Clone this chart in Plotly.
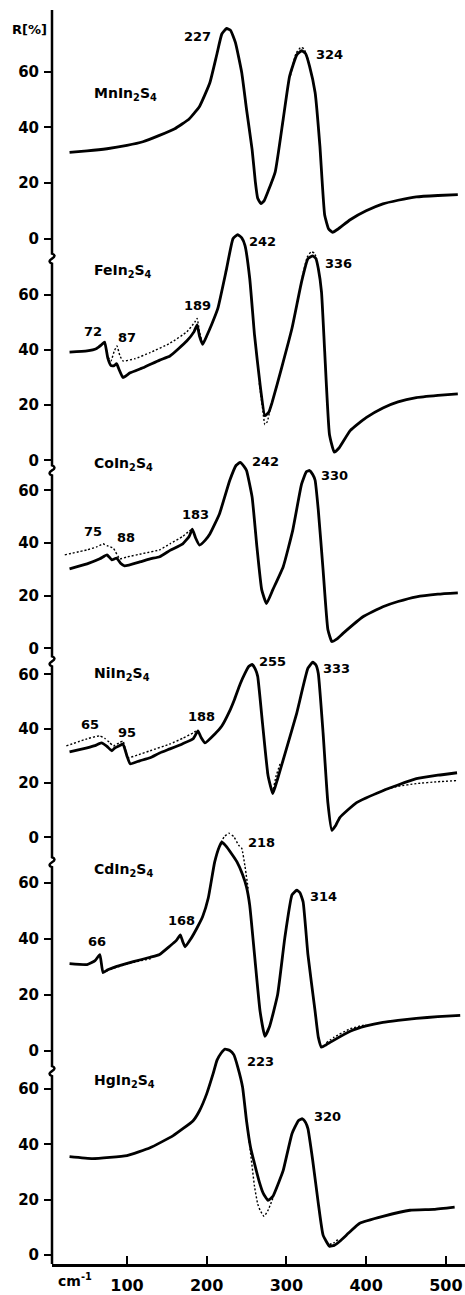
import plotly.graph_objects as go

# ---------------------------------------------------------------
# Far-infrared reflectivity spectra of MIn2S4 spinels
# wavenumber in cm^-1, reflectivity R in %
# solid = measured, dotted = model fit (drawn where it departs)
# ---------------------------------------------------------------

mn_x = [28, 50, 75, 100, 120, 140, 160, 178, 191, 204, 213, 219, 225, 230, 236, 244,
        250, 257, 261, 264, 268, 272, 277, 286, 296, 304, 313, 319, 324, 329, 336, 342,
        348, 353, 358, 365, 380, 400, 421, 440, 463, 490, 515]
mn_r = [31.0, 31.5, 32.3, 33.5, 34.8, 37.0, 39.5, 43.0, 47.5, 56.0, 66.5, 73.5, 75.5,
        74.8, 70.5, 59.6, 46.4, 32.0, 20.5, 14.5, 12.6, 13.6, 17.0, 24.0, 43.0, 58.3,
        66.0, 67.5, 66.5, 62.0, 52.5, 33.3, 8.5, 3.5, 2.3, 3.5, 6.8, 10.0, 12.5, 13.8,
        15.0, 15.5, 15.8]
mn_fit_x = [305, 312, 318, 322, 327]
mn_fit_r = [58.5, 66.5, 68.7, 68.2, 64.5]

fe_x = [28, 50, 62, 68, 72, 76, 80, 84, 87, 90, 95, 104, 120, 141, 154, 175, 184, 188,
        191, 195, 200, 206, 214, 225, 233, 239, 244, 248, 254, 260, 267, 273, 278, 282,
        294, 307, 319, 327, 333, 337, 340, 344, 348, 354, 360, 366, 380, 400, 421, 440,
        463, 490, 515]
fe_r = [39.2, 39.6, 40.5, 41.8, 42.8, 37.0, 34.3, 34.3, 35.0, 33.0, 30.0, 31.7, 33.5,
        36.3, 37.8, 43.2, 46.5, 49.0, 45.0, 42.0, 45.0, 49.0, 55.0, 69.4, 80.2, 81.7,
        80.5, 77.8, 65.8, 45.4, 27.4, 16.2, 17.5, 20.9, 33.5, 47.8, 64.6, 73.0, 74.0,
        73.0, 69.4, 61.0, 39.5, 9.4, 3.0, 4.5, 10.8, 15.5, 19.0, 21.2, 22.7, 23.5, 24.1]
fe_fit_x = [68, 72, 76, 80, 84, 87.5, 91, 95, 110, 129, 154, 175, 185, 188, 191, 195, None,
            266, 270, 273, 276, 280, 288, None,
            320, 326, 331, 335, 338]
fe_fit_r = [41.8, 42.8, 37.5, 36.0, 39.5, 41.4, 38.0, 36.0, 36.8, 39.0, 42.4, 46.5, 50.0,
            51.4, 46.5, 42.0, None,
            28.0, 19.0, 13.0, 14.0, 19.0, 27.0, None,
            66.5, 73.5, 75.5, 75.0, 73.0]

co_x = [28, 50, 66, 75, 81, 87, 92, 97, 116, 129, 141, 154, 170, 178, 182, 186, 191,
        198, 204, 216, 229, 237, 242, 247, 250, 257, 263, 269, 275, 283, 296, 308, 319,
        325, 329, 333, 336, 340, 346, 352, 357, 363, 371, 396, 421, 440, 463, 490, 515]
co_r = [30.2, 32.1, 34.0, 35.5, 33.6, 34.3, 32.3, 31.3, 32.8, 34.0, 34.8, 37.2, 39.7,
        42.5, 45.3, 42.0, 39.2, 41.0, 43.4, 51.0, 63.8, 69.5, 70.6, 69.0, 67.5, 57.4,
        38.5, 22.3, 17.0, 22.3, 31.0, 44.9, 62.3, 67.0, 67.5, 66.0, 63.8, 52.5, 29.8,
        7.2, 2.6, 3.5, 5.7, 12.0, 15.8, 17.8, 19.6, 20.6, 21.1]
co_fit_x = [22, 50, 62, 70, 75, 83, 91, 100, 120, 141, 154, 170, 178, 182]
co_fit_r = [35.5, 37.4, 38.5, 39.7, 39.0, 38.0, 34.0, 34.7, 36.0, 37.4, 39.7, 42.5,
            44.5, 45.3]

ni_x = [28, 50, 60, 68, 75, 81, 85, 90, 95, 100, 104, 116, 129, 141, 154, 170, 183, 189,
        193, 198, 210, 219, 228, 235, 242, 248, 253, 257, 261, 264, 270, 277, 283, 289,
        300, 313, 327, 333, 337, 340, 346, 352, 357, 362, 367, 388, 421, 440, 463, 490, 514]
ni_r = [31.5, 33.0, 33.8, 34.8, 33.5, 31.9, 33.0, 33.7, 34.4, 30.0, 27.1, 28.2, 29.3,
        31.1, 32.6, 34.5, 36.3, 39.2, 36.8, 34.8, 38.0, 41.0, 46.0, 50.9, 56.5, 60.4,
        63.0, 63.7, 62.0, 59.3, 42.1, 22.7, 16.1, 21.6, 32.6, 45.8, 62.3, 64.5, 63.5,
        60.4, 38.5, 12.8, 2.6, 4.5, 7.3, 12.8, 17.2, 19.3, 21.6, 22.9, 23.8]
ni_fit_x = [24, 50, 66, 72, 78, 83, 90, 95, 98, 101, 115, 129, 154, 170, 183, 188, None,
            276, 280, 283, 287, 292, None,
            421, 440, 463, 490, 514]
ni_fit_r = [33.7, 36.3, 37.4, 36.5, 35.0, 33.7, 34.8, 35.5, 32.5, 29.3, 30.5, 31.9,
            34.4, 36.5, 38.5, 39.5, None,
            24.0, 18.5, 17.5, 22.5, 27.0, None,
            17.5, 18.8, 19.8, 20.5, 20.9]

cd_x = [28, 50, 60, 66, 70, 76, 83, 108, 129, 141, 154, 162, 167, 170, 173, 180, 188,
        195, 202, 210, 216, 219, 224, 231, 238, 245, 250, 254, 260, 267, 273, 279, 289,
        298, 307, 313, 317, 321, 327, 336, 340, 344, 350, 357, 380, 400, 421, 440, 463,
        490, 518]
cd_r = [31.2, 30.9, 32.3, 34.4, 28.0, 29.0, 29.8, 31.9, 33.5, 34.5, 37.5, 39.5, 41.5,
        39.0, 37.2, 40.0, 44.0, 48.0, 54.6, 67.4, 73.0, 74.5, 73.2, 70.5, 67.5, 63.0,
        58.5, 52.0, 34.4, 14.2, 5.3, 8.9, 20.2, 40.4, 55.7, 57.4, 56.5, 53.2, 34.4, 14.2,
        5.0, 1.4, 2.3, 3.5, 7.1, 9.0, 10.3, 11.0, 11.7, 12.3, 12.8]
cd_fit_x = [70, 76, 90, 110, 130, None,
            216, 222, 228, 234, 240, 244, 248, 252, None,
            350, 360, 380, 400]
cd_fit_r = [28.0, 28.8, 30.2, 31.8, 33.0, None,
            73.0, 76.5, 77.7, 76.5, 73.5, 72.3, 66.0, 58.0, None,
            3.0, 5.0, 8.0, 9.5]

hg_x = [28, 57, 100, 129, 158, 183, 191, 200, 208, 213, 218, 223, 229, 234, 239, 245,
        250, 255, 260, 266, 271, 277, 283, 290, 296, 307, 315, 320, 324, 327, 333, 340,
        346, 354, 360, 367, 380, 392, 421, 455, 485, 511]
hg_r = [35.6, 34.9, 36.0, 38.8, 43.2, 48.6, 52.2, 58.3, 65.5, 70.5, 73.0, 74.5, 74.0,
        72.5, 68.0, 60.8, 48.5, 39.0, 33.1, 26.5, 22.3, 19.8, 21.2, 26.0, 30.6, 43.9,
        48.6, 49.3, 48.0, 45.7, 34.2, 18.7, 7.2, 3.2, 3.5, 5.0, 8.5, 11.5, 14.0, 16.2,
        16.5, 17.3]
hg_fit_x = [250, 254, 260, 264, 267, 272, 277, 283, None, 354, 360, 366]
hg_fit_r = [48.5, 39.5, 24.8, 18.5, 16.2, 14.0, 16.2, 20.5, None, 3.8, 4.5, 6.0]

compounds = ["MnIn<sub>2</sub>S<sub>4</sub>", "FeIn<sub>2</sub>S<sub>4</sub>",
             "CoIn<sub>2</sub>S<sub>4</sub>", "NiIn<sub>2</sub>S<sub>4</sub>",
             "CdIn<sub>2</sub>S<sub>4</sub>", "HgIn<sub>2</sub>S<sub>4</sub>"]

# peak-position labels per panel: (text, x, R)
peak_labels = [
    [("227", 189, 72.5), ("324", 354, 66)],
    [("72", 57, 46.8), ("87", 100, 44.6), ("189", 188, 56.1), ("242", 270, 79.1),
     ("336", 365, 71.2)],
    [("75", 57, 44.2), ("88", 99, 41.9), ("183", 186, 50.9), ("242", 274, 70.9),
     ("330", 360, 65.7)],
    [("65", 54, 41.4), ("95", 100, 38.5), ("188", 194, 44.7), ("255", 283, 64.8),
     ("333", 363, 62.3)],
    [("66", 62, 39.0), ("168", 168, 46.5), ("218", 269, 74.5), ("314", 346, 55.0)],
    [("223", 267, 70.1), ("320", 352, 50.0)],
]
# compound-name label anchor (x, R) per panel
name_pos = [(56, 52), (56, 68.7), (56, 69.8), (56, 60), (56, 64.5), (56, 63)]

x_ticks = [100, 200, 300, 400, 500]
r_ticks = [0, 20, 40, 60]

spectra = [(mn_x, mn_r, mn_fit_x, mn_fit_r), (fe_x, fe_r, fe_fit_x, fe_fit_r),
           (co_x, co_r, co_fit_x, co_fit_r), (ni_x, ni_r, ni_fit_x, ni_fit_r),
           (cd_x, cd_r, cd_fit_x, cd_fit_r), (hg_x, hg_r, hg_fit_x, hg_fit_r)]

# ---------------- page geometry ----------------
W, H = 465, 1295
ML, MB = 52, 24
PW, PH = W - ML, H - MB
# pixel row of R=0 and pixels per % for each stacked panel
zero_row = [240, 463, 652, 842, 1057, 1262]
px_per_pct = [2.8, 2.78, 2.65, 2.73, 2.82, 2.78]
breaks = [260, 473, 665, 867, 1077]

FONT = "DejaVu Sans"


def paper(px, py):
    return (px - ML) / PW, 1 - py / PH


fig = go.Figure()

for k, (xs, rs, fx, fr) in enumerate(spectra):
    yref = "y" if k == 0 else f"y{k + 1}"
    fig.add_trace(go.Scatter(x=fx, y=fr, yaxis=yref, mode="lines",
                             line=dict(color="black", width=1.4, dash="2px,2px",
                                       shape="spline", smoothing=0.4),
                             connectgaps=False, showlegend=False, hoverinfo="skip"))
    fig.add_trace(go.Scatter(x=xs, y=rs, yaxis=yref, mode="lines",
                             line=dict(color="black", width=2.8,
                                       shape="spline", smoothing=0.4),
                             showlegend=False))

layout = dict(
    width=W, height=H, autosize=False,
    margin=dict(l=ML, r=0, t=0, b=MB, pad=0),
    paper_bgcolor="white", plot_bgcolor="white",
    showlegend=False,
    xaxis=dict(range=[6, 524], domain=[0, 1], anchor="y",
               showline=True, linecolor="black", linewidth=2.5,
               ticks="inside", ticklen=8, tickwidth=2, tickcolor="black",
               tickvals=x_ticks, ticktext=[str(v) for v in x_ticks],
               tickfont=dict(family=FONT, size=16, color="black", weight="bold"),
               ticklabelstandoff=5,
               showgrid=False, zeroline=False),
)

for k in range(6):
    z, s = zero_row[k], px_per_pct[k]
    ax = dict(domain=[0, 1], range=[(z - PH) / s, z / s], anchor="x", side="left",
              tickvals=r_ticks, ticktext=[str(v) for v in r_ticks],
              ticks="outside", ticklen=7, tickwidth=2, tickcolor="black",
              tickfont=dict(family=FONT, size=15, color="black", weight="bold"),
              ticklabelstandoff=2,
              showline=False, showgrid=False, zeroline=False)
    if k == 0:
        layout["yaxis"] = ax
    else:
        ax["overlaying"] = "y"
        layout[f"yaxis{k + 1}"] = ax

fig.update_layout(**layout)

# left axis spine with small S-shaped breaks between panels
segs = []
x0, y0 = paper(ML, 10)
segs.append(f"M {x0:.5f},{y0:.5f}")
for b in breaks:
    pts = [("L", [(ML, b - 5)]),
           ("Q", [(ML + 5, b - 3), (ML, b)]),
           ("Q", [(ML - 5, b + 3), (ML, b + 5)])]
    for cmd, pp in pts:
        coords = " ".join(f"{paper(px, py)[0]:.5f},{paper(px, py)[1]:.5f}" for px, py in pp)
        segs.append(f"{cmd} {coords}")
xe, ye = paper(ML, PH)
segs.append(f"L {xe:.5f},{ye:.5f}")
fig.add_shape(type="path", path=" ".join(segs), xref="paper", yref="paper",
              line=dict(color="black", width=2.5), layer="above")

# compound names and peak positions
for k in range(6):
    yref = "y" if k == 0 else f"y{k + 1}"
    nx, ny = name_pos[k]
    fig.add_annotation(x=nx, y=ny, xref="x", yref=yref, text=compounds[k],
                       showarrow=False, xanchor="left", yanchor="middle",
                       font=dict(family=FONT, size=14, color="black", weight="bold"))
    for txt, lx, ly in peak_labels[k]:
        fig.add_annotation(x=lx, y=ly, xref="x", yref=yref, text=txt,
                           showarrow=False, xanchor="center", yanchor="middle",
                           font=dict(family=FONT, size=13, color="black", weight="bold"))

rx, ry = paper(29, 30)
fig.add_annotation(x=rx, y=ry, xref="paper", yref="paper", text="R[%]",
                   showarrow=False, xanchor="center", yanchor="middle",
                   font=dict(family=FONT, size=13, color="black", weight="bold"))
cx, cy = paper(75, 1287)
fig.add_annotation(x=cx, y=cy, xref="paper", yref="paper", text="cm<sup>-1</sup>",
                   showarrow=False, xanchor="center", yanchor="middle",
                   font=dict(family=FONT, size=14, color="black", weight="bold"))

fig.write_html("out.html")
